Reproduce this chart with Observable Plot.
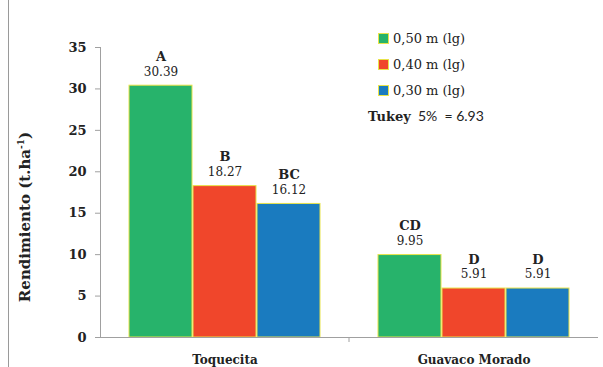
<!DOCTYPE html>
<html>
<head>
<meta charset="utf-8">
<script src="https://cdn.jsdelivr.net/npm/d3@7"></script>
<script src="https://cdn.jsdelivr.net/npm/@observablehq/plot@0.6"></script>
<style>
  html, body { margin: 0; padding: 0; background: #fff; }
  #wrap { position: relative; width: 603px; height: 367px; overflow: hidden; font-family: "DejaVu Serif", serif; }
  #border { position: absolute; left: 8px; top: 0; width: 1px; height: 367px; background: #9a9a9a; }
  #ylab { position: absolute; left: 25px; top: 217px; transform: translate(-50%, -50%) rotate(-90deg); white-space: nowrap; font-weight: bold; font-size: 15px; color: #222; }
  #ylab sup { font-size: 9px; vertical-align: 6px; }
  #legend { position: absolute; left: 378px; top: 26px; font-size: 13px; color: #222; }
  .item { display: flex; align-items: center; height: 25.7px; }
  .sw { width: 9px; height: 9px; border: 1px solid #e8e34a; margin-right: 4px; }
  #tukey { position: absolute; left: 368px; top: 107px; font-size: 13px; color: #222; white-space: nowrap; }
  #tukey span { font-family: Lato, "Open Sans", sans-serif; font-size: 14px; }
</style>
</head>
<body>
<div id="wrap">
  <div id="border"></div>
  <div id="chart"></div>
  <div id="ylab">Rendimiento (t.ha<sup>-1</sup>)</div>
  <div id="legend"></div>
  <div id="tukey"><b>Tukey</b><span>&nbsp; 5% &nbsp;= 6.93</span></div>
</div>
<script>
const categories = ["Toquecita", "Guavaco Morado"];
const series = ["0,50 m (lg)", "0,40 m (lg)", "0,30 m (lg)"];
const colors = ["#27b36b", "#f0462b", "#1a7bbf"];
const toquecitaValues = [30.39, 18.27, 16.12];
const guavacoValues = [9.95, 5.91, 5.91];
const toquecitaLetters = ["A", "B", "BC"];
const guavacoLetters = ["CD", "D", "D"];
const yTicks = [0, 5, 10, 15, 20, 25, 30, 35];

const data = [];
[[toquecitaValues, toquecitaLetters], [guavacoValues, guavacoLetters]].forEach(([vals, lets], i) => {
  vals.forEach((v, j) => data.push({cat: categories[i], series: series[j], value: v, letter: lets[j]}));
});

const chart = Plot.plot({
  width: 603,
  height: 367,
  marginLeft: 99,
  marginRight: 5,
  marginTop: 47,
  marginBottom: 30,
  style: {fontFamily: "'DejaVu Serif', serif", color: "#222", background: "transparent"},
  fx: {domain: categories, padding: 0, label: null},
  x: {domain: series, paddingInner: 0.02, paddingOuter: 0.45, axis: null},
  y: {domain: [0, 35]},
  color: {domain: series, range: colors},
  marks: [
    Plot.frame({anchor: "left", stroke: "#a0a0a0", facet: "super"}),
    Plot.barY(data, {fx: "cat", x: "series", y: "value", fill: "series", stroke: "#e8e34a", strokeWidth: 1}),
    Plot.ruleY([0], {stroke: "#a0a0a0"}),
    Plot.text(data, {fx: "cat", x: "series", y: "value", text: d => d.value.toFixed(2), dy: -14, fontSize: 12, fill: "#222"}),
    Plot.text(data, {fx: "cat", x: "series", y: "value", text: "letter", dy: -29, fontSize: 13, fontWeight: "bold", fill: "#222"}),
    Plot.axisY({ticks: yTicks, tickSize: 5, tickPadding: 9, stroke: "#a0a0a0", fill: "#222", fontSize: 13, fontWeight: "bold", label: null}),
    Plot.axisFx({anchor: "bottom", tickSize: 0, tickPadding: 18, fontSize: 12, fontWeight: "bold", label: null})
  ]
});
document.getElementById("chart").appendChild(chart);

// category boundary tick on the x axis, positioned from the Plot scales
const fxScale = chart.scale("fx");
const yScale = chart.scale("y");
const bx = fxScale.apply(categories[1]);
const by = yScale.apply(0);
d3.select(chart).append("line")
  .attr("x1", bx).attr("x2", bx)
  .attr("y1", by).attr("y2", by + 5)
  .attr("stroke", "#a0a0a0");

const legend = document.getElementById("legend");
series.forEach((s, i) => {
  const it = document.createElement("div");
  it.className = "item";
  it.innerHTML = `<div class="sw" style="background:${colors[i]}"></div><div>${s}</div>`;
  legend.appendChild(it);
});
</script>
</body>
</html>
